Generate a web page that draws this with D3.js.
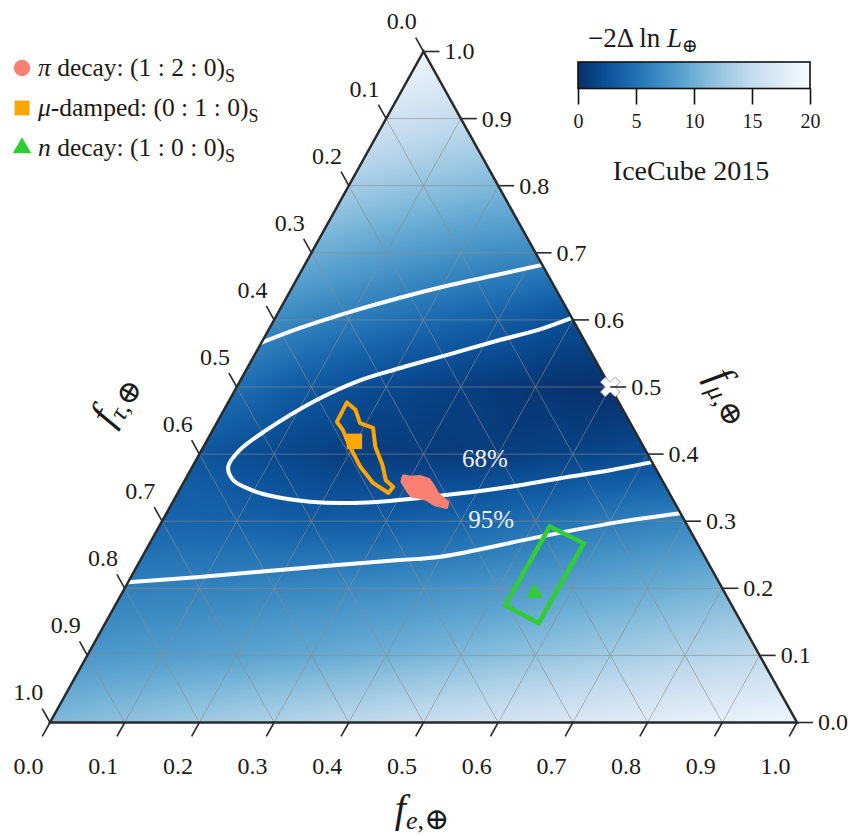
<!DOCTYPE html>
<html>
<head>
<meta charset="utf-8">
<script src="https://cdn.jsdelivr.net/npm/d3@7/dist/d3.min.js"></script>
<style>
  html, body { margin:0; padding:0; background:#ffffff; }
  svg { display:block; }
  text { font-family: "Liberation Serif", "DejaVu Serif", serif; fill:#1a1a1a; }
</style>
</head>
<body>
<svg id="chart" width="854" height="836"></svg>
<script>
// ---------------- data ----------------
const tickValues = [0, 0.1, 0.2, 0.3, 0.4, 0.5, 0.6, 0.7, 0.8, 0.9, 1.0];
const tickLabels = ["0.0","0.1","0.2","0.3","0.4","0.5","0.6","0.7","0.8","0.9","1.0"];
const gridValues = [0.1, 0.2, 0.3, 0.4, 0.5, 0.6, 0.7, 0.8, 0.9];
const colorbarTicks = [0, 5, 10, 15, 20];
const colorbarDomain = [0, 20];

// -2ΔlnL read on the ternary grid: one array per f_mu row (0.0 ... 1.0),
// entries for f_e = 0.0, 0.1, ... up to 1 - f_mu
const llhMu00 = [11.0, 11.8, 12.7, 13.6, 14.5, 15.4, 16.2, 17.0, 17.8, 18.5, 19.2];
const llhMu01 = [8.0, 8.4, 8.9, 9.5, 10.2, 11.0, 11.9, 12.8, 13.7, 14.5];
const llhMu02 = [6.1, 6.3, 6.6, 6.9, 7.4, 8.0, 8.9, 9.7, 10.5];
const llhMu03 = [4.0, 3.85, 3.4, 3.5, 4.0, 4.9, 5.8, 6.5];
const llhMu04 = [2.9, 1.85, 1.05, 0.85, 1.0, 1.4, 1.95];
const llhMu05 = [4.75, 3.0, 1.85, 1.1, 0.4, 0.0];
const llhMu06 = [7.0, 5.7, 4.5, 3.5, 2.25];
const llhMu07 = [10.0, 8.7, 7.6, 6.8];
const llhMu08 = [13.0, 11.9, 10.9];
const llhMu09 = [16.1, 15.0];
const llhMu10 = [19.2];

// contours and regions as [f_e, f_mu]
const contour68 = [[0.397,0.603],[0.363,0.586],[0.317,0.570],[0.261,0.549],[0.204,0.528],[0.160,0.510],
  [0.117,0.481],[0.072,0.436],[0.051,0.406],[0.048,0.381],[0.065,0.361],[0.095,0.347],[0.121,0.339],
  [0.184,0.329],[0.260,0.328],[0.345,0.337],[0.428,0.349],[0.501,0.364],[0.562,0.376],[0.612,0.388]];
const contour95Upper = [[0.0,0.566],[0.041,0.588],[0.096,0.612],[0.152,0.633],[0.210,0.652],[0.268,0.668],[0.318,0.682]];
const contour95Lower = [[0.0,0.209],[0.092,0.217],[0.220,0.230],[0.347,0.242],[0.399,0.247],[0.518,0.277],[0.613,0.299],[0.688,0.312]];
const piDecayRegion = [[0.291,0.366],[0.300,0.364],[0.313,0.365],[0.326,0.361],[0.337,0.351],[0.349,0.339],
  [0.367,0.328],[0.369,0.322],[0.353,0.326],[0.337,0.334],[0.325,0.337],[0.315,0.339],[0.304,0.349],[0.293,0.359]];
const muDampedRegion = [[0.159,0.477],[0.176,0.466],[0.192,0.446],[0.213,0.439],[0.230,0.411],[0.253,0.384],
  [0.269,0.361],[0.284,0.351],[0.282,0.342],[0.254,0.357],[0.225,0.381],[0.196,0.411],[0.174,0.436],[0.160,0.448]];
const nDecayRegion = [[0.523,0.292],[0.581,0.267],[0.580,0.148],[0.522,0.175]];
const piDecayPoint = [0.311, 0.351];
const muDampedPoint = [0.198, 0.419];
const nDecayPoint = [0.552, 0.193];
const bestFitPoint = [0.5, 0.5];
const contourLabelText = ["68%", "95%"];
const contourLabelAt = [[0.361, 0.381], [0.415, 0.290]];
const legendLabels = [["π", " decay: (1 : 2 : 0)"], ["μ", "-damped: (0 : 1 : 0)"], ["n", " decay: (1 : 0 : 0)"]];
const legendColors = ["#FA8072", "#FFA500", "#32CD32"];

// ---------------- setup ----------------
const W = 854, H = 836;
const svg = d3.select("#chart");
svg.append("rect").attr("width", W).attr("height", H).attr("fill", "#fff");

const xS = d3.scaleLinear().domain([0, 1]).range([50, 797]);
const yS = d3.scaleLinear().domain([0, 1]).range([722.5, 51.5]);
const color = d3.scaleSequential(d3.interpolateBlues).domain([colorbarDomain[1], colorbarDomain[0]]).clamp(true);
function pt(fe, fm) { return [xS(fe + fm / 2), yS(fm)]; }

const llhGrid = [llhMu00, llhMu01, llhMu02, llhMu03, llhMu04, llhMu05, llhMu06, llhMu07, llhMu08, llhMu09, llhMu10];
function llh(fe, fm) {
  let a = Math.max(0, fe) * 10, b = Math.min(1, Math.max(0, fm)) * 10;
  if (a + b > 10 - 1e-9) { const s = (10 - 1e-9) / (a + b); a *= s; b *= s; }
  const i = Math.floor(a), j = Math.floor(b);
  const fa = a - i, fb = b - j;
  if (fa + fb <= 1) {
    return llhGrid[j][i] * (1 - fa - fb) + llhGrid[j][i + 1] * fa + llhGrid[j + 1][i] * fb;
  }
  return llhGrid[j + 1][i + 1] * (fa + fb - 1) + llhGrid[j][i + 1] * (1 - fb) + llhGrid[j + 1][i] * (1 - fa);
}

// ---------------- heatmap (canvas image, clipped to triangle) ----------------
const cv = document.createElement("canvas");
cv.width = W; cv.height = H;
const ctx = cv.getContext("2d");
const img = ctx.createImageData(W, H);
const lut = d3.range(0, 2001).map(k => d3.rgb(color(k / 100)));
const y0 = Math.floor(yS(1)) - 2, y1 = Math.ceil(yS(0)) + 2;
for (let py = y0; py <= y1; py++) {
  const fm = yS.invert(py + 0.5);
  for (let px = 45; px <= 802; px++) {
    const fe = xS.invert(px + 0.5) - fm / 2;
    if (fe < -0.01 || fe + fm > 1.01 || fm < -0.01 || fm > 1.01) continue;
    const v = Math.max(0, Math.min(20, llh(fe, fm)));
    const c = lut[Math.round(v * 100)];
    const o = (py * W + px) * 4;
    img.data[o] = c.r; img.data[o + 1] = c.g; img.data[o + 2] = c.b; img.data[o + 3] = 255;
  }
}
ctx.putImageData(img, 0, 0);

const triPts = [pt(0, 0), pt(1, 0), pt(0, 1)];
const defs = svg.append("defs");
defs.append("clipPath").attr("id", "tri").append("path")
  .attr("d", "M" + triPts.map(p => p.join(",")).join("L") + "Z");
svg.append("image").attr("href", cv.toDataURL()).attr("x", 0).attr("y", 0)
  .attr("width", W).attr("height", H).attr("clip-path", "url(#tri)");

// ---------------- grid ----------------
const gridG = svg.append("g").attr("stroke", "rgb(140,140,140)").attr("stroke-opacity", 0.6).attr("stroke-width", 1);
gridValues.forEach(v => {
  [[pt(v, 0), pt(v, 1 - v)], [pt(0, v), pt(1 - v, v)], [pt(1 - v, 0), pt(0, 1 - v)]].forEach(([p, q]) => {
    gridG.append("line").attr("x1", p[0]).attr("y1", p[1]).attr("x2", q[0]).attr("y2", q[1]);
  });
});

// ---------------- contours ----------------
const lineGen = d3.line().x(d => pt(d[0], d[1])[0]).y(d => pt(d[0], d[1])[1]).curve(d3.curveCatmullRom.alpha(0.5));
[contour68, contour95Upper, contour95Lower].forEach(c => {
  svg.append("path").attr("d", lineGen(c)).attr("fill", "none").attr("stroke", "#fff")
    .attr("stroke-width", 4).attr("stroke-linecap", "round");
});
contourLabelText.forEach((t, k) => {
  const p = pt(contourLabelAt[k][0], contourLabelAt[k][1]);
  svg.append("text").attr("x", p[0]).attr("y", p[1]).attr("font-size", 25)
    .style("fill", "#f2f2f2").text(t);
});

// ---------------- regions ----------------
const closedGen = d3.line().x(d => pt(d[0], d[1])[0]).y(d => pt(d[0], d[1])[1]).curve(d3.curveLinearClosed);
svg.append("path").attr("d", closedGen(muDampedRegion)).attr("fill", "none").attr("stroke", legendColors[1])
  .attr("stroke-width", 4).attr("stroke-linejoin", "round");
svg.append("path").attr("d", closedGen(piDecayRegion)).attr("fill", legendColors[0]).attr("stroke", legendColors[0])
  .attr("stroke-width", 5).attr("stroke-linejoin", "round");
svg.append("path").attr("d", closedGen(nDecayRegion)).attr("fill", "none").attr("stroke", legendColors[2])
  .attr("stroke-width", 4.5).attr("stroke-linejoin", "miter");

// ---------------- markers ----------------
function marker(p, type, size, fill, rot) {
  const q = pt(p[0], p[1]);
  return svg.append("path").attr("d", d3.symbol().type(type).size(size)())
    .attr("transform", `translate(${q[0]},${q[1]}) rotate(${rot || 0})`).attr("fill", fill);
}
marker(piDecayPoint, d3.symbolCircle, 230, legendColors[0]);
marker(muDampedPoint, d3.symbolSquare, 240, legendColors[1]);
marker(nDecayPoint, d3.symbolTriangle, 120, legendColors[2]);

// ---------------- triangle border ----------------
svg.append("path").attr("d", "M" + triPts.map(p => p.join(",")).join("L") + "Z")
  .attr("fill", "none").attr("stroke", "#2a2a2a").attr("stroke-width", 2.5).attr("stroke-linejoin", "miter");

marker(bestFitPoint, d3.symbolCross, 240, "#ffffff", 45).attr("stroke", "#9a9a9a").attr("stroke-width", 0.8);

// ---------------- ticks & labels ----------------
function unit(p, q) { const dx = q[0] - p[0], dy = q[1] - p[1], l = Math.hypot(dx, dy); return [dx / l, dy / l]; }
const dBottom = unit(pt(0, 1), pt(0, 0));   // along constant f_e line, outward (down-left)
const dLeft = unit(pt(1, 0), pt(0, 1));     // along constant f_tau line, outward (up-left)
const tickLen = 16;
const tickG = svg.append("g").attr("stroke", "#2a2a2a").attr("stroke-width", 1.6);
const labG = svg.append("g").attr("font-size", 24);
tickValues.forEach((t, k) => {
  // bottom: f_e
  let p = pt(t, 0);
  tickG.append("line").attr("x1", p[0]).attr("y1", p[1]).attr("x2", p[0] + tickLen * dBottom[0]).attr("y2", p[1] + tickLen * dBottom[1]);
  labG.append("text").attr("x", p[0] - 21.5).attr("y", p[1] + 44).attr("dy", "0.33em").attr("text-anchor", "middle").text(tickLabels[k]);
  // right: f_mu
  p = pt(1 - t, t);
  tickG.append("line").attr("x1", p[0]).attr("y1", p[1]).attr("x2", p[0] + tickLen).attr("y2", p[1]);
  labG.append("text").attr("x", p[0] + 21).attr("y", p[1]).attr("dy", "0.33em").attr("text-anchor", "start").text(tickLabels[k]);
  // left: f_tau
  p = pt(0, 1 - t);
  tickG.append("line").attr("x1", p[0]).attr("y1", p[1]).attr("x2", p[0] + tickLen * dLeft[0]).attr("y2", p[1] + tickLen * dLeft[1]);
  labG.append("text").attr("x", p[0] - 21.7).attr("y", p[1] - 30).attr("dy", "0.33em").attr("text-anchor", "middle").text(tickLabels[k]);
});

// ---------------- axis titles ----------------
function axisTitle(x, y, rot, sub) {
  const g = svg.append("g").attr("transform", `translate(${x},${y}) rotate(${rot})`);
  const t = g.append("text").attr("text-anchor", "middle").attr("y", 11);
  t.append("tspan").attr("font-size", 40).attr("font-style", "italic").text("f");
  t.append("tspan").attr("font-size", 26).attr("font-style", "italic").attr("dy", 7).text(sub);
  t.append("tspan").attr("font-size", 26).text(",");
  t.append("tspan").attr("font-size", 30).text("⊕");
}
axisTitle(422, 811, 0, "e");
axisTitle(115, 400, -60, "τ");
axisTitle(730, 396, 60, "μ");

// ---------------- legend ----------------
const legendSymbols = [d3.symbolCircle, d3.symbolSquare, d3.symbolTriangle];
const legendSizes = [210, 220, 150];
legendLabels.forEach((lab, k) => {
  const cy = 68 + k * 40;
  svg.append("path").attr("d", d3.symbol().type(legendSymbols[k]).size(legendSizes[k])())
    .attr("transform", `translate(22,${cy})`).attr("fill", legendColors[k]);
  const t = svg.append("text").attr("x", 38).attr("y", cy + 8).attr("font-size", 25.5);
  t.append("tspan").attr("font-style", "italic").text(lab[0]);
  t.append("tspan").text(lab[1]);
  t.append("tspan").attr("font-size", 18).attr("dy", 6).text("S");
});

// ---------------- colorbar ----------------
const cbX = d3.scaleLinear().domain(colorbarDomain).range([578, 810]);
const grad = defs.append("linearGradient").attr("id", "cbgrad").attr("x1", "0%").attr("x2", "100%");
d3.range(0, 21).forEach(v => grad.append("stop").attr("offset", (v / 20 * 100) + "%").attr("stop-color", color(v)));
svg.append("rect").attr("x", cbX(0)).attr("y", 62).attr("width", cbX(20) - cbX(0)).attr("height", 26.5)
  .attr("fill", "url(#cbgrad)").attr("stroke", "#111").attr("stroke-width", 1.6);
const cbAxis = svg.append("g").attr("transform", "translate(0,88.5)")
  .call(d3.axisBottom(cbX).tickValues(colorbarTicks).tickSize(16).tickPadding(9).tickFormat(d3.format("d")));
cbAxis.select(".domain").remove();
cbAxis.selectAll(".tick line").attr("stroke", "#111").attr("stroke-width", 1.6);
cbAxis.selectAll(".tick text").attr("font-size", 20).attr("font-family", "Liberation Serif, DejaVu Serif, serif").style("fill", "#1a1a1a");

const cbTitle = svg.append("text").attr("x", 643).attr("y", 47).attr("text-anchor", "middle").attr("font-size", 27);
cbTitle.append("tspan").text("−2Δ ln ");
cbTitle.append("tspan").attr("font-style", "italic").text("L");
cbTitle.append("tspan").attr("font-size", 19).attr("dy", 5).text("⊕");

svg.append("text").attr("x", 691).attr("y", 180).attr("text-anchor", "middle").attr("font-size", 28).text("IceCube 2015");
</script>
</body>
</html>
